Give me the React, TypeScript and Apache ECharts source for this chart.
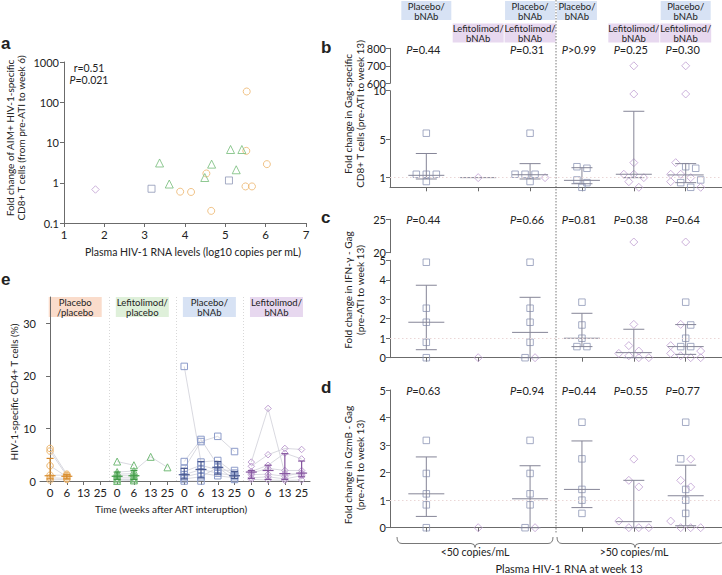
import React, { useEffect, useRef } from "react";
import * as echarts from "echarts";

// ================= DATA =================
// Panel a: [plasma HIV-1 RNA (log10), fold change]
const aPlaceboPlacebo: number[][] = [[3.88, 0.6], [4.15, 0.59], [4.53, 1.7], [4.65, 0.2], [5.53, 185], [5.52, 6.2], [5.5, 0.81], [5.66, 0.81], [6.03, 2.9]];
const aLefitolimodPlacebo: number[][] = [[3.37, 3.1], [3.61, 0.93], [4.49, 1.35], [4.66, 2.9], [5.13, 6.7], [5.41, 6.7], [5.27, 2.1]];
const aPlaceboBnab: number[][] = [[3.17, 0.71], [5.09, 1.14]];
const aLefitolimodBnab: number[][] = [[1.78, 0.68]];
const aCorrR = "0.51";
const aCorrP = "0.021";

// Panels b-d: six groups (1-3: <50 copies/mL, 4-6: >50 copies/mL)
const groupPos = [1, 2, 3, 4, 5, 6];
// squares = Placebo/bNAb, diamonds = Lefitolimod/bNAb ; group 3 = 1 + 2, group 6 = 4 + 5
const bSq1 = [5.6, 1.35, 1.35, 1.35, 0.6];
const bDi2 = [1.0];
const bSq4 = [2.13, 1.97, 0.76, 0.48, 0];
const bDi5 = [700, 9.66, 2.55, 1.35, 1.35, 1.0, 0.58, 0];
const bStats = [[1.24, 0.86, 3.5], [1.0, 1.0, 1.0], [1.3, 0.86, 2.45], [0.72, 0.37, 2.03], [1.35, 1.0, 7.87], [1.28, 0.48, 2.45]];
const bP = ["=0.44", "", "=0.31", ">0.99", "=0.25", "=0.30"];

const cSq1 = [4.9, 2.54, 1.82, 0.79, 0];
const cDi2 = [0];
const cSq4 = [2.85, 1.68, 1.0, 0.57, 0.57];
const cDi5 = [21.6, 1.71, 0.62, 0.34, 0.22, 0.1, 0, 0];
const cStats = [[1.82, 0.41, 3.72], null, [1.3, 0, 3.1], [1.0, 0.57, 2.28], [0.26, 0, 1.46], [0.57, 0.17, 1.7]];
const cP = ["=0.44", "", "=0.66", "=0.81", "=0.38", "=0.64"];

const dSq1 = [3.17, 1.97, 1.23, 0.83, 0];
const dDi2 = [0];
const dSq4 = [3.83, 2.5, 1.39, 1.0, 0.52];
const dDi5 = [2.49, 1.72, 1.48, 0.24, 0, 0, 0];
const dStats = [[1.23, 0.41, 2.57], null, [1.05, 0, 2.25], [1.39, 0.73, 3.15], [0.22, 0, 1.72], [1.16, 0.07, 2.27]];
const dP = ["=0.63", "", "=0.94", "=0.44", "=0.55", "=0.77"];

// Panel e: time points and per-subject values [wk0, wk6, wk13, wk25]
const eTimes = ["0", "6", "13", "25"];
const ePlaceboPlacebo = [[6.2, 1.3, null, null], [5.7, 1.0, null, null], [2.9, 0.8, null, null], [1.1, 1.1, null, null], [0.6, 0.5, null, null], [0.2, 0.3, null, null]];
const eLefitolimodPlacebo = [[3.7, 3.0, null, null], [1.7, 1.9, 4.6, 2.6], [1.3, 1.4, null, null], [1.0, 1.0, null, null], [0.6, 0.6, null, null], [0.3, 0.3, null, null], [0.0, 0.1, null, null]];
const ePlaceboBnab = [[21.8, 3.6, 3.9, 1.5], [3.7, 7.9, 3.0, 1.0], [2.4, 7.5, 8.5, 5.6], [1.8, 3.0, 2.1, 2.0], [1.2, 2.2, 1.5, 1.0], [0.8, 1.5, 1.0, 0.6], [0.4, 0.8, 2.6, 0.3], [0.0, 0.0, null, null]];
const eLefitolimodBnab = [[3.6, 13.8, 1.4, 1.3], [2.8, 5.0, 6.2, 6.0], [1.8, 3.0, 5.3, 4.2], [1.5, 2.4, 2.0, 2.0], [1.2, 1.3, 0.9, 1.6], [0.6, 0.8, 0.4, 1.0], [0.3, 0.2, 0.1, 0.2]];
// [median, low, high] per time point
const eStatsPP = [[1.0, 0.4, 4.3], [0.9, 0.4, 1.2], null, null];
const eStatsLP = [[0.9, 0.3, 1.7], [1.0, 0.3, 2.0], null, null];
const eStatsPB = [[1.2, 0.4, 2.4], [2.2, 0.6, 3.7], [2.6, 1.3, 3.7], [1.0, 0.5, 1.8]];
const eStatsLB = [[1.7, 0.5, 2.0], [2.0, 0.3, 3.0], [1.4, 0.3, 5.2], [1.5, 0.8, 3.8]];

// ================= STYLE / LAYOUT =================
const FONT = "Lato, 'Open Sans', sans-serif";
const LETTER_FONT = "'Liberation Sans', Arial, sans-serif";
const C_ORANGE = "#ecb46a";
const C_GREEN = "#74bb78";
const C_BLUE = "#8e97b6";
const C_PURPLE = "#bf9fd2";
const BOX_BLUE = "#d7e2f4";
const BOX_PURPLE = "#e7d8ef";
const BOX_ORANGE = "#fadccb";
const BOX_GREEN = "#dff0da";

const B_LEFT = 390;
const B_WIDTH = 332;
const X_MIN = 0.3;
const X_MAX = 6.7;
const PX_X = B_WIDTH / (X_MAX - X_MIN);
const gx = (g: number) => B_LEFT + (g - X_MIN) * PX_X;

const E_LEFT = 40, E_WIDTH = 270, E_XMIN = -0.6, E_XMAX = 15.5;
const ex = (v: number) => E_LEFT + (v - E_XMIN) * (E_WIDTH / (E_XMAX - E_XMIN));

const brace1 = "M397 537 Q397 543.5 402 543.5 L471 543.5 Q475 543.5 475 547.5 Q475 543.5 479 543.5 L548 543.5 Q553 543.5 553 537";
const brace2 = "M557 537 Q557 543.5 562 543.5 L631 543.5 Q635 543.5 635 547.5 Q635 543.5 639 543.5 L719 543.5 Q724 543.5 724 537";
echarts.graphic.registerShape("brace1", echarts.graphic.extendPath(brace1, {}));
echarts.graphic.registerShape("brace2", echarts.graphic.extendPath(brace2, {}));

const axLine = { show: true, lineStyle: { color: "#6b6b6b", width: 1 } };
const axTick = { show: true, length: 4, lineStyle: { color: "#6b6b6b" } };
const axLabel = (size = 11) => ({ color: "#222", fontSize: size, fontFamily: FONT, margin: 4 });

function swarm(sq: number[], di: number[], g: number, pxY: number) {
  const items = [...sq.map((v) => ({ v, k: "sq" })), ...di.map((v) => ({ v, k: "di" }))].sort((a, b) => b.v - a.v);
  const rows: { v: number; k: string }[][] = [];
  for (const it of items) {
    const last = rows[rows.length - 1];
    if (last && Math.abs(last[0].v - it.v) * pxY < 7) last.push(it);
    else rows.push([it]);
  }
  const out: any = { sq: [], di: [] };
  for (const row of rows) {
    row.forEach((it, i) => {
      const off = (i - (row.length - 1) / 2) * 10;
      out[it.k].push([g + off / PX_X, it.v]);
    });
  }
  return out;
}

function statSeries(data: number[][], xi: number, yi: number, medHalf: number, capHalf: number, color: string, width: number) {
  return {
    type: "custom",
    xAxisIndex: xi,
    yAxisIndex: yi,
    silent: true,
    z: 4,
    data,
    renderItem: (_p: any, api: any) => {
      const x = api.value(0), m = api.value(1), lo = api.value(2), hi = api.value(3);
      const pm = api.coord([x, m]);
      const pl = api.coord([x, lo]);
      const ph = api.coord([x, hi]);
      const st = { stroke: color, lineWidth: width, fill: "none" };
      const ch: any[] = [
        { type: "line", shape: { x1: pm[0] - medHalf, y1: pm[1], x2: pm[0] + medHalf, y2: pm[1] }, style: st },
      ];
      if (hi !== lo) {
        ch.push({ type: "line", shape: { x1: pl[0], y1: pl[1], x2: ph[0], y2: ph[1] }, style: st });
        ch.push({ type: "line", shape: { x1: ph[0] - capHalf, y1: ph[1], x2: ph[0] + capHalf, y2: ph[1] }, style: st });
        ch.push({ type: "line", shape: { x1: pl[0] - capHalf, y1: pl[1], x2: pl[0] + capHalf, y2: pl[1] }, style: st });
      }
      return { type: "group", children: ch };
    },
  };
}

const hollow = (c: string) => ({ color: "rgba(255,255,255,0)", borderColor: c, borderWidth: 1 });

function panelSeries(sq1: number[], di2: number[], sq4: number[], di5: number[], stats: any[], lowX: number, lowY: number, upX: number | null, upY: number | null, split: number, pxLow: number, pxUp: number) {
  const sqs = [sq1, [], sq1, sq4, [], sq4];
  const dis = [[], di2, di2, [], di5, di5];
  const lowSq: number[][] = [], lowDi: number[][] = [], upSq: number[][] = [], upDi: number[][] = [];
  groupPos.forEach((g, i) => {
    const lo = swarm(sqs[i].filter((v) => v <= split), dis[i].filter((v) => v <= split), g, pxLow);
    const up = swarm(sqs[i].filter((v) => v > split), dis[i].filter((v) => v > split), g, pxUp);
    lowSq.push(...lo.sq); lowDi.push(...lo.di); upSq.push(...up.sq); upDi.push(...up.di);
  });
  const series: any[] = [
    {
      type: "scatter", xAxisIndex: lowX, yAxisIndex: lowY, data: lowSq, symbol: "rect", symbolSize: 6.5, itemStyle: hollow(C_BLUE), z: 3,
      markLine: { silent: true, symbol: "none", label: { show: false }, lineStyle: { type: [1.5, 2.5], color: "#ead6d6", width: 1 }, data: [{ yAxis: 1 }] },
    },
    { type: "scatter", xAxisIndex: lowX, yAxisIndex: lowY, data: lowDi, symbol: "diamond", symbolSize: 8, itemStyle: hollow(C_PURPLE), z: 3 },
    statSeries(groupPos.map((g, i) => (stats[i] ? [g, ...stats[i]] : null)).filter(Boolean) as number[][], lowX, lowY, 18, 10.5, "#858597", 1),
  ];
  if (upX !== null) {
    series.push({ type: "scatter", xAxisIndex: upX, yAxisIndex: upY, data: upSq, symbol: "rect", symbolSize: 6.5, itemStyle: hollow(C_BLUE) });
    series.push({ type: "scatter", xAxisIndex: upX, yAxisIndex: upY, data: upDi, symbol: "diamond", symbolSize: 8, itemStyle: hollow(C_PURPLE) });
  }
  return series;
}

function eSeries(rows: (number | null)[][], stats: any[], g: number, color: string, dark: string, symbol: string) {
  const s: any[] = rows.map((row) => ({
    type: "line", xAxisIndex: 6, yAxisIndex: 6,
    data: row.map((v, t) => (v === null ? null : [g * 4 + t, v])).filter(Boolean),
    symbol, symbolSize: symbol === "triangle" ? 7 : 6.5, showSymbol: true, showAllSymbol: true,
    lineStyle: { color: "#cfcfd8", width: 0.8 }, itemStyle: hollow(color), z: 2,
  }));
  s.push(statSeries(stats.map((st, t) => (st ? [g * 4 + t, ...st] : null)).filter(Boolean) as number[][], 6, 6, 5.5, 3.5, dark, 1.2));
  return s;
}

function txt(x: number, y: number, text: string, size: number, o: any = {}) {
  return {
    type: "text", x, y, rotation: o.rot || 0, z: 20, silent: true,
    style: {
      text, fill: o.color || "#222", fontSize: size, fontFamily: o.family || FONT, fontWeight: o.weight || "normal",
      align: o.align || "center", verticalAlign: o.valign || "middle", lineHeight: o.lh || size + 1,
      rich: { i: { fontStyle: "italic", fontSize: size, fontFamily: FONT, fill: "#222" } },
    },
  };
}

function box(cx: number, y: number, w: number, h: number, fill: string, label: string) {
  return {
    type: "group", z: 15, silent: true,
    children: [
      { type: "rect", shape: { x: cx - w / 2, y, width: w, height: h }, style: { fill } },
      txt(cx, y + h / 2 + 0.5, label, 9.5, { lh: 10 }),
    ],
  };
}

export default function App() {
  const ref = useRef<HTMLDivElement>(null);
  useEffect(() => {
    document.body.style.margin = "0";
    const chart = echarts.init(ref.current!, null, { renderer: "svg" });

    const grid = (left: number, top: number, width: number, height: number) => ({ left, top, width, height, containLabel: false, outerBoundsMode: "none" });
    const bx = (show: boolean) => ({
      type: "value", min: X_MIN, max: X_MAX, show,
      axisLine: axLine, axisTick: { ...axTick, customValues: groupPos }, axisLabel: { show: false, customValues: groupPos }, splitLine: { show: false },
    });
    const vy = (min: number, max: number, vals: number[]) => ({
      type: "value", min, max, axisLine: axLine,
      axisTick: { ...axTick, customValues: vals }, axisLabel: { ...axLabel(11), customValues: vals }, splitLine: { show: false },
    });

    const graphic: any[] = [];
    // panel letters
    graphic.push(txt(1, 43, "a", 17, { weight: "bold", align: "left", family: LETTER_FONT }));
    graphic.push(txt(321, 47, "b", 17, { weight: "bold", align: "left", family: LETTER_FONT }));
    graphic.push(txt(321, 217, "c", 17, { weight: "bold", align: "left", family: LETTER_FONT }));
    graphic.push(txt(321, 387, "d", 17, { weight: "bold", align: "left", family: LETTER_FONT }));
    graphic.push(txt(1, 279, "e", 17, { weight: "bold", align: "left", family: LETTER_FONT }));
    // panel a texts
    graphic.push(txt(15, 138, "Fold change of AIM+ HIV-1-specific\nCD8+ T cells (from pre-ATI to week 6)", 10, { rot: Math.PI / 2, lh: 11 }));
    graphic.push(txt(193, 252, "Plasma HIV-1 RNA levels (log10 copies per mL)", 10.5));
    graphic.push(txt(89, 74, `r=${aCorrR}\n{i|P}=${aCorrP}`, 10.5, { lh: 12 }));
    // panels b-d titles
    graphic.push(txt(354, 114, "Fold change in Gag-specific\nCD8+ T cells (pre-ATI to week 13)", 10, { rot: Math.PI / 2, lh: 11.5 }));
    graphic.push(txt(354, 290, "Fold change in IFN-\u03b3 - Gag\n(pre-ATI to week 13)", 10, { rot: Math.PI / 2, lh: 11.5 }));
    graphic.push(txt(354, 465, "Fold change in GzmB - Gag\n(pre-ATI to week 13)", 10, { rot: Math.PI / 2, lh: 11.5 }));
    // P values
    const pRows: [string[], number][] = [[bP, 49], [cP, 219], [dP, 390]];
    pRows.forEach(([ps, y]) => ps.forEach((p, i) => { if (p) graphic.push(txt(gx(groupPos[i]) - 3, y, `{i|P}${p}`, 11)); }));
    // group boxes (top of b)
    [[0, 50], [2, 50], [3, 40], [5, 50]].forEach(([i, w]) => graphic.push(box(gx(groupPos[i]) - (i === 3 ? 5 : 0), 1, w, 19, BOX_BLUE, "Placebo/\nbNAb")));
    [1, 2, 4, 5].forEach((i) => graphic.push(box(gx(groupPos[i]), 23.5, 51, 19, BOX_PURPLE, "Lefitolimod/\nbNAb")));
    // divider
    graphic.push({ type: "line", z: 1, silent: true, shape: { x1: gx(3.5), y1: 0, x2: gx(3.5), y2: 534 }, style: { stroke: "#555", lineWidth: 0.8, lineDash: [1.5, 1.5] } });
    // braces
    graphic.push({ type: "brace1", x: 0, y: 0, silent: true, style: { fill: "none", stroke: "#555", lineWidth: 0.8 } });
    graphic.push({ type: "brace2", x: 0, y: 0, silent: true, style: { fill: "none", stroke: "#555", lineWidth: 0.8 } });
    graphic.push(txt(475, 552, "<50 copies/mL", 10.5));
    graphic.push(txt(634, 552, ">50 copies/mL", 10.5));
    graphic.push(txt(569, 568.5, "Plasma HIV-1 RNA at week 13", 11));
    // panel e texts
    graphic.push(txt(14, 392, "HIV-1-specific CD4+ T cells (%)", 10, { rot: Math.PI / 2 }));
    graphic.push(txt(171, 509, "Time (weeks after ART interuption)", 10));
    const eBoxes: [string, string][] = [[BOX_ORANGE, "Placebo\n/placebo"], [BOX_GREEN, "Lefitolimod/\nplacebo"], [BOX_BLUE, "Placebo/\nbNAb"], [BOX_PURPLE, "Lefitolimod/\nbNAb"]];
    eBoxes.forEach(([c, l], g) => graphic.push(box(ex(g * 4 + 1.5), 297, 53, 20, c, l)));

    const eTickVals = Array.from({ length: 16 }, (_, i) => i);

    const option: any = {
      animation: false,
      backgroundColor: "#fff",
      textStyle: { fontFamily: FONT },
      grid: [
        grid(64, 62, 242, 161), // a
        grid(B_LEFT, 48.3, B_WIDTH, 35), // b upper
        grid(B_LEFT, 90.7, B_WIDTH, 96.6), // b lower
        grid(B_LEFT, 219.3, B_WIDTH, 33.4), // c upper
        grid(B_LEFT, 260.3, B_WIDTH, 97.4), // c lower
        grid(B_LEFT, 390, B_WIDTH, 137.7), // d
        grid(E_LEFT, 297, E_WIDTH, 184), // e
      ],
      xAxis: [
        { gridIndex: 0, type: "value", min: 1, max: 7, interval: 1, axisLine: axLine, axisTick: axTick, axisLabel: { ...axLabel(11.5), margin: 5 }, splitLine: { show: false } },
        { gridIndex: 1, ...bx(false) },
        { gridIndex: 2, ...bx(true) },
        { gridIndex: 3, ...bx(false) },
        { gridIndex: 4, ...bx(true) },
        { gridIndex: 5, ...bx(true) },
        {
          gridIndex: 6, type: "value", min: E_XMIN, max: E_XMAX, axisLine: axLine,
          axisTick: { ...axTick, customValues: eTickVals },
          axisLabel: { ...axLabel(11.5), margin: 5, customValues: eTickVals, formatter: (v: number) => eTimes[Math.round(v) % 4] },
          splitLine: { show: false },
        },
      ],
      yAxis: [
        {
          gridIndex: 0, type: "log", logBase: 10, min: 0.1, max: 1000, axisLine: axLine, axisTick: axTick,
          axisLabel: { ...axLabel(11), margin: 5, formatter: (v: number) => (v >= 1 ? String(Math.round(v)) : String(Math.round(v * 10) / 10)) },
          splitLine: { show: false },
        },
        { gridIndex: 1, ...vy(600, 800, [600, 700, 800]) },
        { gridIndex: 2, ...vy(0, 10, [0, 1, 5, 10]) },
        { gridIndex: 3, ...vy(20, 25, [20, 25]) },
        { gridIndex: 4, ...vy(0, 5, [0, 1, 2, 3, 4, 5]) },
        { gridIndex: 5, ...vy(0, 5, [0, 1, 2, 3, 4, 5]) },
        { gridIndex: 6, ...vy(0, 35, [0, 10, 20, 30]) },
      ],
      series: [
        { type: "scatter", xAxisIndex: 0, yAxisIndex: 0, data: aPlaceboPlacebo, symbol: "circle", symbolSize: 7, itemStyle: hollow(C_ORANGE) },
        { type: "scatter", xAxisIndex: 0, yAxisIndex: 0, data: aLefitolimodPlacebo, symbol: "triangle", symbolSize: 8, itemStyle: hollow(C_GREEN) },
        { type: "scatter", xAxisIndex: 0, yAxisIndex: 0, data: aPlaceboBnab, symbol: "rect", symbolSize: 7, itemStyle: hollow(C_BLUE) },
        { type: "scatter", xAxisIndex: 0, yAxisIndex: 0, data: aLefitolimodBnab, symbol: "diamond", symbolSize: 7.5, itemStyle: hollow(C_PURPLE) },
        ...panelSeries(bSq1, bDi2, bSq4, bDi5, bStats, 2, 2, 1, 1, 10, 9.66, 0.175),
        ...panelSeries(cSq1, cDi2, cSq4, cDi5, cStats, 4, 4, 3, 3, 5, 19.47, 6.68),
        ...panelSeries(dSq1, dDi2, dSq4, dDi5, dStats, 5, 5, null, null, 100, 27.5, 1),
        {
          type: "scatter", xAxisIndex: 6, yAxisIndex: 6, data: [], silent: true,
          markLine: { silent: true, symbol: "none", label: { show: false }, lineStyle: { type: [1, 2], color: "#d8d8d8", width: 1 }, data: [{ xAxis: 3.5 }, { xAxis: 7.5 }, { xAxis: 11.5 }] },
        },
        ...eSeries(ePlaceboPlacebo, eStatsPP, 0, C_ORANGE, "#d68a2c", "circle"),
        ...eSeries(eLefitolimodPlacebo, eStatsLP, 1, C_GREEN, "#3f9a45", "triangle"),
        ...eSeries(ePlaceboBnab, eStatsPB, 2, "#8d9cca", "#4a5990", "rect"),
        ...eSeries(eLefitolimodBnab, eStatsLB, 3, C_PURPLE, "#85559f", "diamond"),
      ],
      graphic,
    };
    chart.setOption(option);
    return () => chart.dispose();
  }, []);
  return <div ref={ref} style={{ position: "absolute", left: 0, top: 0, width: 722, height: 575 }} />;
}
